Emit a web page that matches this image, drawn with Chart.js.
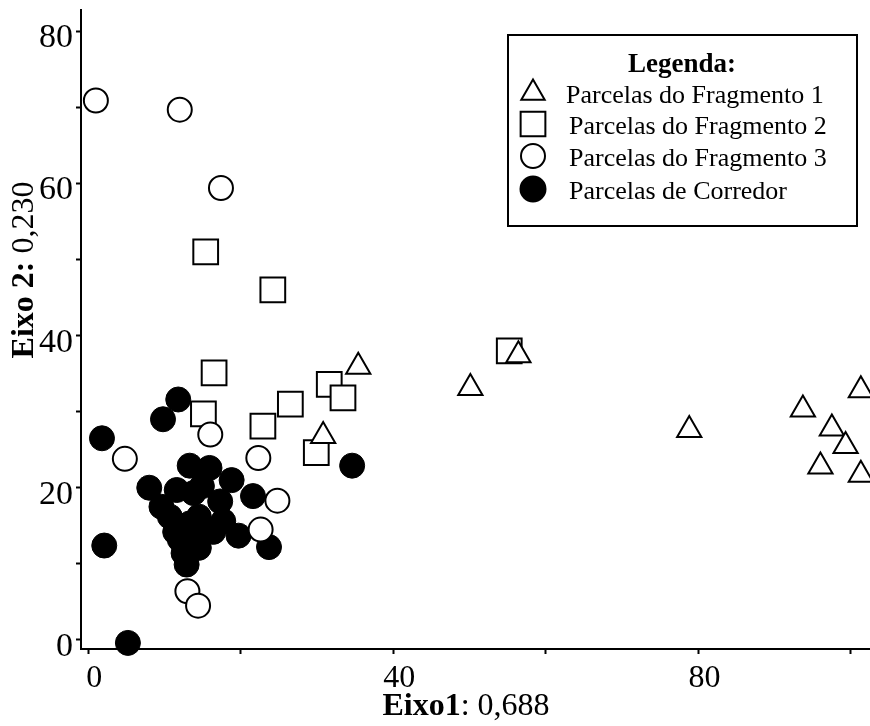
<!DOCTYPE html>
<html>
<head>
<meta charset="utf-8">
<script src="https://cdn.jsdelivr.net/npm/chart.js@4.4.1/dist/chart.umd.min.js"></script>
<style>
  html, body { margin: 0; padding: 0; background: #fff; }
  #wrap { width: 870px; height: 726px; position: relative; }
</style>
</head>
<body>
<div id="wrap"><canvas id="grafico"></canvas></div>
<script>
// Parcelas do Fragmento 1 (triângulos)
const frag1X = [35.4, 30.8, 56.4, 50.1, 78.8, 93.7, 101.3, 97.5, 99.3, 96.0, 101.3];
const frag1Y = [35.9, 26.8, 37.4, 33.1, 27.6, 30.3, 32.8, 27.8, 25.5, 22.8, 21.7];

// Parcelas do Fragmento 2 (quadrados)
const frag2X = [15.4, 24.2, 16.5, 15.1, 22.9, 26.5, 31.6, 33.4, 29.9, 55.2];
const frag2Y = [51.0, 46.0, 35.1, 29.7, 28.1, 31.0, 33.6, 31.8, 24.6, 38.0];

// Parcelas do Fragmento 3 (círculos abertos)
const frag3X = [1.0, 12.0, 17.4, 4.8, 16.0, 22.3, 24.8, 22.6, 13.0, 14.4];
const frag3Y = [70.9, 69.7, 59.4, 23.8, 27.0, 23.9, 18.3, 14.5, 6.4, 4.5];

// Parcelas de Corredor (círculos cheios)
const corrX = [11.8, 9.8, 1.8, 2.1, 5.2, 34.6, 8.0, 13.3, 15.9, 18.8, 21.6, 17.3, 17.7, 19.7, 23.7,
               9.6, 11.6, 10.7, 11.4, 12.0, 13.3, 14.5, 14.6, 16.4, 14.5, 12.9, 12.5, 13.8, 14.9];
const corrY = [31.6, 29.0, 26.5, 12.4, -0.4, 22.9, 20.0, 22.9, 22.6, 21.0, 18.9, 18.2, 15.6, 13.7, 12.2,
               17.5, 19.7, 16.2, 14.2, 13.2, 15.3, 16.2, 13.6, 14.2, 12.1, 9.9, 11.4, 19.3, 20.2];

const xLabels = [0, 40, 80];
const yLabels = [0, 20, 40, 60, 80];

const legendItems = [
  { text: 'Parcelas do Fragmento 1', style: 'triangle', radius: 13.5, fill: '#fff' },
  { text: 'Parcelas do Fragmento 2', style: 'rect', radius: 17.5, fill: '#fff' },
  { text: 'Parcelas do Fragmento 3', style: 'circle', radius: 12, fill: '#fff' },
  { text: 'Parcelas de Corredor', style: 'circle', radius: 12.5, fill: '#000' }
];

const fonte = '"Liberation Serif", "Times New Roman", serif';

function pares(xs, ys) {
  return xs.map((x, i) => ({ x: x, y: ys[i] }));
}

// texto com parte em negrito e parte normal, centrado em cx
function textoMisto(ctx, negrito, normal, cx, y, tam) {
  ctx.font = 'bold ' + tam + 'px ' + fonte;
  const wa = ctx.measureText(negrito).width;
  ctx.font = tam + 'px ' + fonte;
  const wb = ctx.measureText(normal).width;
  const x0 = cx - (wa + wb) / 2;
  ctx.font = 'bold ' + tam + 'px ' + fonte;
  ctx.fillText(negrito, x0, y);
  ctx.font = tam + 'px ' + fonte;
  ctx.fillText(normal, x0 + wa, y);
}

// legenda e títulos dos eixos
const extras = {
  id: 'extras',
  afterDraw(chart) {
    const ctx = chart.ctx;
    ctx.save();
    ctx.fillStyle = '#000';
    ctx.textAlign = 'left';
    ctx.textBaseline = 'alphabetic';

    textoMisto(ctx, 'Eixo1', ': 0,688', 466, 715, 32);

    ctx.save();
    ctx.translate(33, 270);
    ctx.rotate(-Math.PI / 2);
    textoMisto(ctx, 'Eixo 2:', ' 0,230', 0, 0, 32);
    ctx.restore();

    // caixa da legenda
    ctx.fillStyle = '#fff';
    ctx.fillRect(508, 35, 349, 191);
    ctx.strokeStyle = '#000';
    ctx.lineWidth = 2;
    ctx.strokeRect(508, 35, 349, 191);

    ctx.fillStyle = '#000';
    ctx.textAlign = 'center';
    ctx.textBaseline = 'middle';
    ctx.font = 'bold 27px ' + fonte;
    ctx.fillText('Legenda:', 682, 65);

    const rows = [93, 124, 156, 189];
    ctx.textAlign = 'left';
    ctx.font = '26px ' + fonte;
    legendItems.forEach((it, i) => {
      ctx.fillStyle = it.fill;
      ctx.strokeStyle = '#000';
      ctx.lineWidth = 2;
      Chart.helpers.drawPoint(ctx, { pointStyle: it.style, radius: it.radius, rotation: 0, borderWidth: 2 }, 533, rows[i]);
      ctx.fillStyle = '#000';
      ctx.fillText(it.text, i === 0 ? 566 : 569, rows[i] + 3);
    });
    ctx.restore();
  }
};

const ctx = document.getElementById('grafico').getContext('2d');
new Chart(ctx, {
  type: 'scatter',
  data: {
    datasets: [
      {
        label: 'Parcelas do Fragmento 3',
        data: pares(frag3X, frag3Y),
        pointStyle: 'circle',
        pointRadius: 12,
        backgroundColor: '#fff',
        borderColor: '#000',
        borderWidth: 2,
        clip: false,
        order: 1
      },
      {
        label: 'Parcelas do Fragmento 1',
        data: pares(frag1X, frag1Y),
        pointStyle: 'triangle',
        pointRadius: 14,
        backgroundColor: '#fff',
        borderColor: '#000',
        borderWidth: 2,
        clip: false,
        order: 2
      },
      {
        label: 'Parcelas do Fragmento 2',
        data: pares(frag2X, frag2Y),
        pointStyle: 'rect',
        pointRadius: 17.5,
        backgroundColor: '#fff',
        borderColor: '#000',
        borderWidth: 2,
        clip: false,
        order: 3
      },
      {
        label: 'Parcelas de Corredor',
        data: pares(corrX, corrY),
        pointStyle: 'circle',
        pointRadius: 12.5,
        backgroundColor: '#000',
        borderColor: '#000',
        borderWidth: 1,
        clip: false,
        order: 4
      }
    ]
  },
  options: {
    responsive: true,
    maintainAspectRatio: false,
    animation: false,
    layout: { autoPadding: false, padding: { top: 10, right: 0, left: 0, bottom: 0 } },
    plugins: {
      legend: { display: false },
      tooltip: { enabled: false }
    },
    scales: {
      x: {
        type: 'linear',
        min: -0.95,
        max: 102.5,
        afterFit: (s) => { s.height = 77; s.paddingLeft = 0; s.paddingRight = 0; },
        border: { display: true, color: '#000', width: 2 },
        grid: { display: true, drawOnChartArea: false, drawTicks: true, tickLength: 5, tickColor: '#000', tickWidth: 2 },
        ticks: {
          stepSize: 20,
          includeBounds: false,
          maxRotation: 0,
          autoSkip: false,
          padding: 5,
          labelOffset: 6,
          color: '#000',
          font: { size: 32, family: fonte },
          callback: (v) => xLabels.includes(v) ? String(v) : ''
        }
      },
      y: {
        type: 'linear',
        min: -1.2,
        max: 82.8,
        afterFit: (s) => { s.width = 81; s.paddingTop = 0; s.paddingBottom = 0; },
        border: { display: true, color: '#000', width: 2 },
        grid: { display: true, drawOnChartArea: false, drawTicks: true, tickLength: 5, tickColor: '#000', tickWidth: 2 },
        ticks: {
          stepSize: 10,
          includeBounds: false,
          autoSkip: false,
          padding: 3,
          labelOffset: 7,
          color: '#000',
          font: { size: 34, family: fonte },
          callback: (v) => yLabels.includes(v) ? String(v) : ''
        }
      }
    }
  },
  plugins: [extras]
});
</script>
</body>
</html>
